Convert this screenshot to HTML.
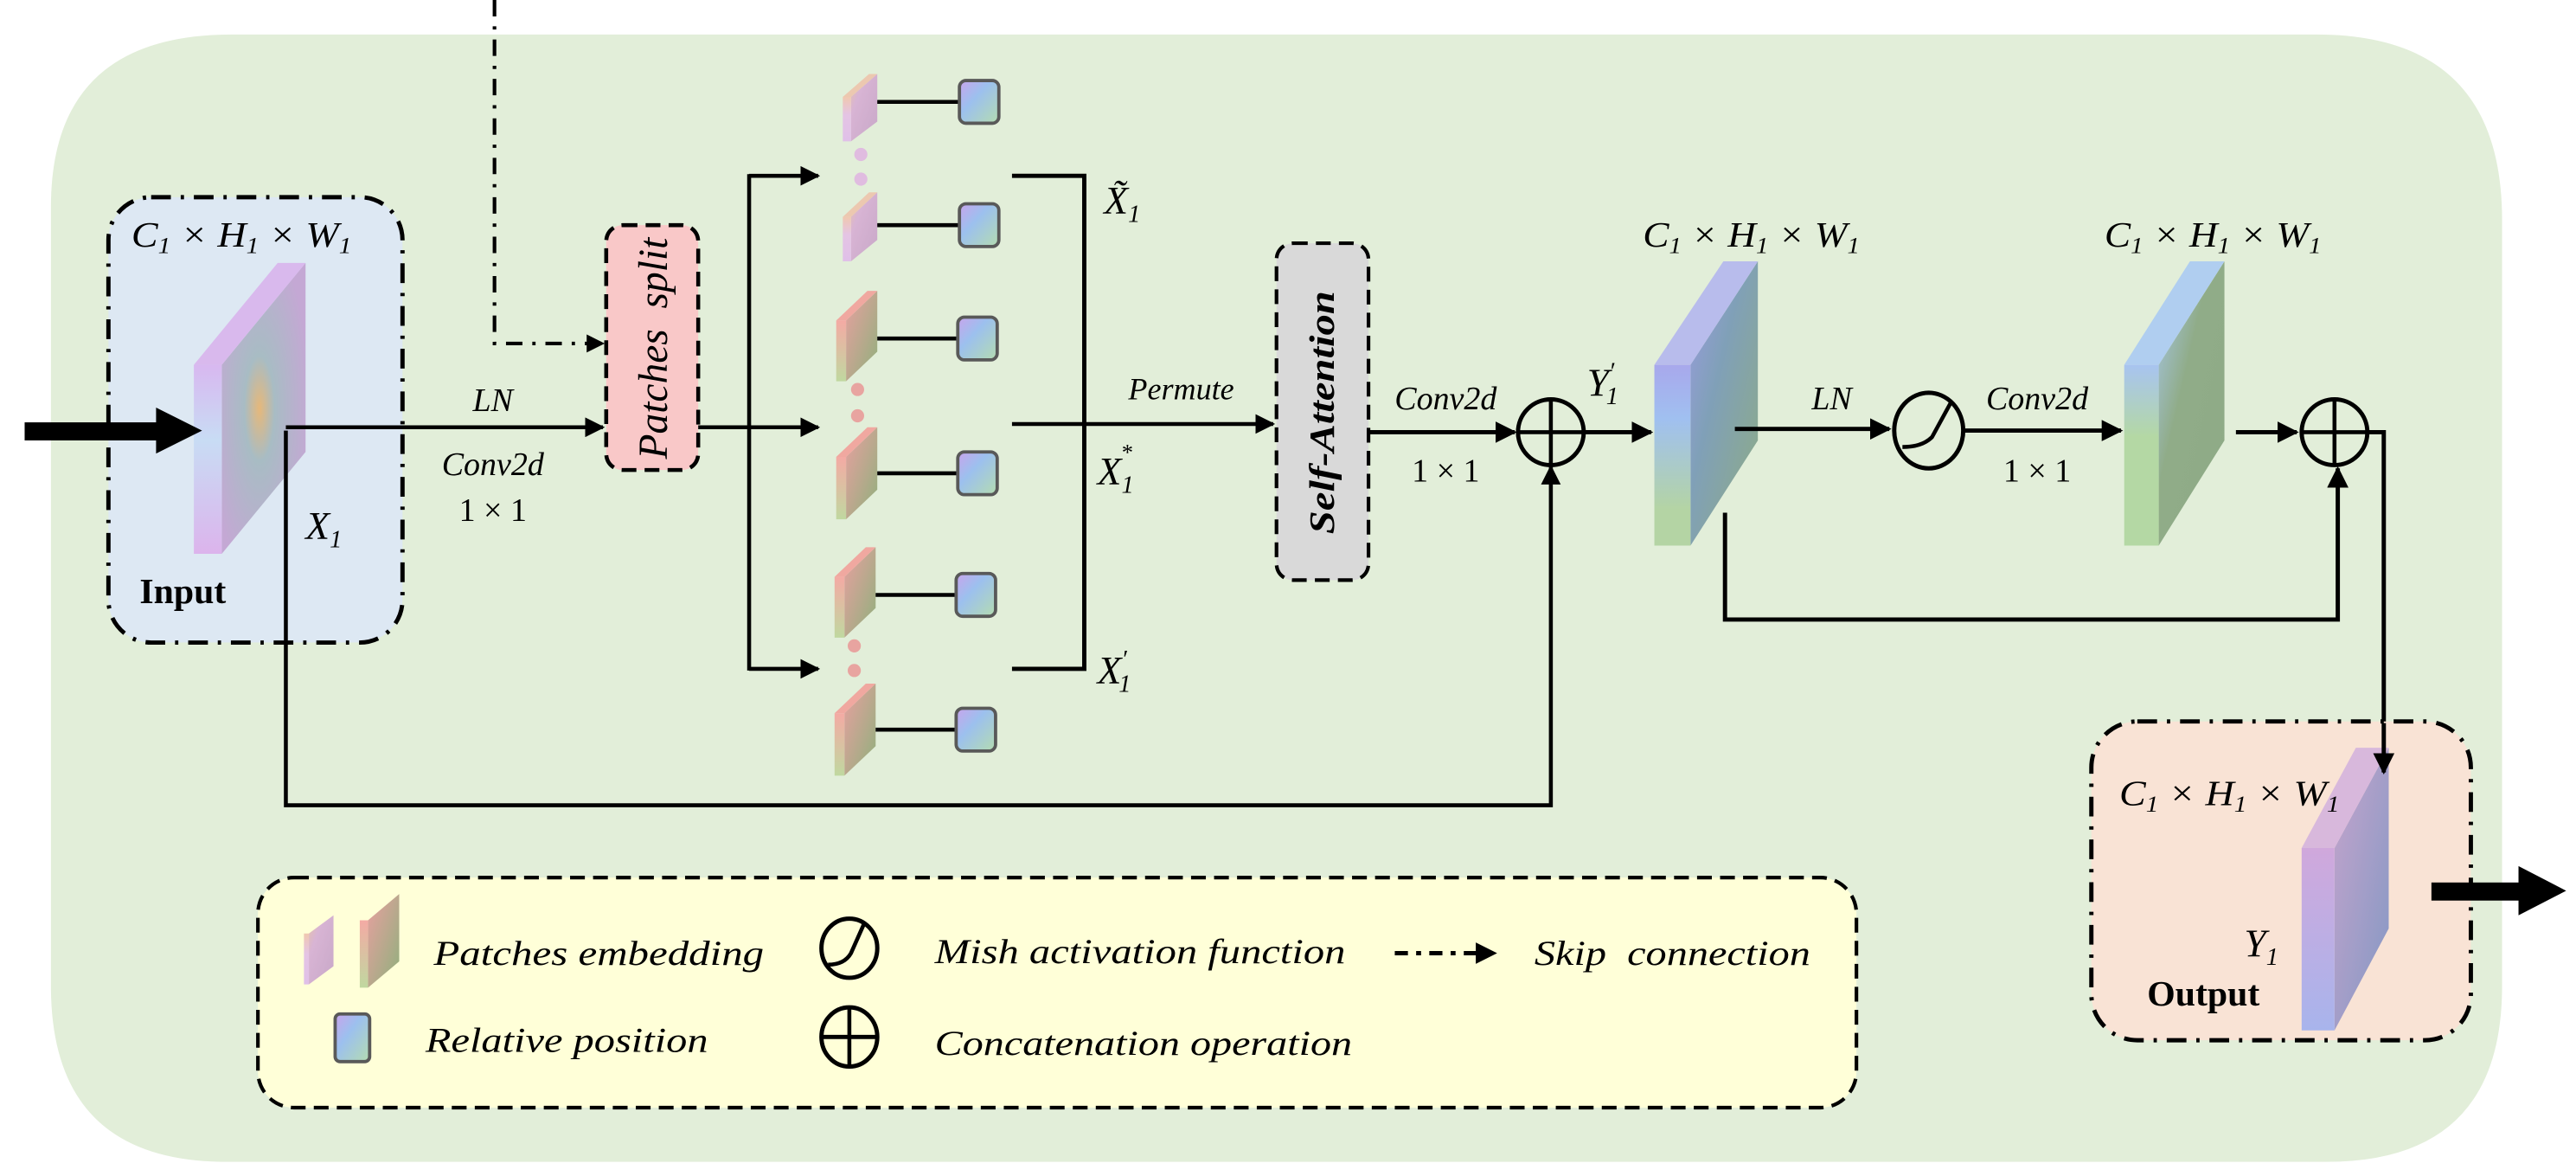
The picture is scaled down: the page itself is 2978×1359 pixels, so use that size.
<!DOCTYPE html>
<html><head><meta charset="utf-8"><style>
html,body{margin:0;padding:0;background:#fff;}
svg{display:block;}
text{font-family:"Liberation Serif",serif;}
.it{font-style:italic;}
</style></head><body>
<svg width="2978" height="1359" viewBox="0 0 1568 715.6" preserveAspectRatio="none" xmlns="http://www.w3.org/2000/svg">
<defs>
<marker id="ah" viewBox="0 0 10 10" refX="9" refY="5" markerWidth="5" markerHeight="5" orient="auto" markerUnits="strokeWidth"><path d="M0,0 L10,5 L0,10 z" fill="#000"/></marker>
<linearGradient id="sq" x1="0" y1="0" x2="1" y2="1"><stop offset="0" stop-color="#c8a4ec"/><stop offset="0.4" stop-color="#9cc0ee"/><stop offset="1" stop-color="#b4dcb0"/></linearGradient>
<linearGradient id="salF" x1="0" y1="0" x2="1" y2="1"><stop offset="0" stop-color="#e8a0a0"/><stop offset="1" stop-color="#8fb07c"/></linearGradient>
<linearGradient id="salS" x1="0" y1="0" x2="0" y2="1"><stop offset="0" stop-color="#f4aaa4"/><stop offset="1" stop-color="#c0d8a0"/></linearGradient>
<linearGradient id="litF" x1="0" y1="0" x2="1" y2="1"><stop offset="0" stop-color="#e8c4a8"/><stop offset="0.3" stop-color="#d8b4d4"/><stop offset="1" stop-color="#c8a8c8"/></linearGradient>
<linearGradient id="litS" x1="0" y1="0" x2="0" y2="1"><stop offset="0" stop-color="#f0c8b0"/><stop offset="0.4" stop-color="#e4c4e4"/><stop offset="1" stop-color="#e0c0e8"/></linearGradient>
<radialGradient id="inF" cx="0.45" cy="0.5" r="0.6"><stop offset="0" stop-color="#e6b87a"/><stop offset="0.3" stop-color="#a8bcc4"/><stop offset="1" stop-color="#c4a8d4"/></radialGradient>
<linearGradient id="inS" x1="0" y1="0" x2="0" y2="1"><stop offset="0" stop-color="#d8b8f0"/><stop offset="0.4" stop-color="#c8dcf4"/><stop offset="1" stop-color="#dcb4ec"/></linearGradient>
<linearGradient id="s2F" x1="0" y1="0" x2="1" y2="1"><stop offset="0" stop-color="#9a9ce0"/><stop offset="0.4" stop-color="#80a0b8"/><stop offset="1" stop-color="#8eac84"/></linearGradient>
<linearGradient id="s2S" x1="0" y1="0" x2="0" y2="1"><stop offset="0" stop-color="#a8a8ec"/><stop offset="0.3" stop-color="#a0c0f0"/><stop offset="0.8" stop-color="#b4d4a4"/></linearGradient>
<linearGradient id="s3F" x1="0" y1="0" x2="1" y2="1"><stop offset="0" stop-color="#a8c8f0"/><stop offset="0.4" stop-color="#90ac88"/><stop offset="1" stop-color="#8eaa86"/></linearGradient>
<linearGradient id="s3S" x1="0" y1="0" x2="0" y2="1"><stop offset="0" stop-color="#a8c4f0"/><stop offset="0.4" stop-color="#b4d8a4"/><stop offset="1" stop-color="#b4d8a4"/></linearGradient>
<linearGradient id="oF" x1="0" y1="0" x2="1" y2="1"><stop offset="0" stop-color="#c4a4cc"/><stop offset="1" stop-color="#8498c4"/></linearGradient>
<linearGradient id="oS" x1="0" y1="0" x2="0" y2="1"><stop offset="0" stop-color="#d0a8dc"/><stop offset="1" stop-color="#a8b4ec"/></linearGradient>
</defs>

<path d="M141,21 H1410 Q1523,21 1523,134 V600 Q1523,707 1416,707 H138 Q31,707 31,600 V126 Q31,21 141,21 z" fill="#e2eed9"/>

<polyline points="301,0 301,209 367,209" fill="none" stroke="#000" stroke-width="2.2" stroke-dasharray="10,6,2,6" marker-end="url(#ah)"/>

<rect x="66" y="120" width="179" height="271" rx="26" fill="#dde8f3" stroke="#000" stroke-width="2.6" stroke-dasharray="12,6,2,6"/>
<text x="80" y="150" class="it" font-size="22" textLength="134" lengthAdjust="spacingAndGlyphs">C<tspan font-size="14" dy="4">1</tspan><tspan dy="-4"> × H</tspan><tspan font-size="14" dy="4">1</tspan><tspan dy="-4"> × W</tspan><tspan font-size="14" dy="4">1</tspan></text>
<polygon points="135,222 186,160 186,275 135,337" fill="url(#inF)"/>
<polygon points="118,222 135,222 135,337 118,337" fill="url(#inS)"/>
<polygon points="118,222 169,160 186,160 135,222" fill="#d8b4ec" opacity="0.9"/>
<text x="186" y="328" class="it" font-size="24">X<tspan font-size="15" dy="5">1</tspan></text>
<text x="85" y="367" font-size="22" font-weight="bold">Input</text>
<rect x="15" y="257" width="82" height="11" fill="#000"/>
<polygon points="95,248 123,262 95,276" fill="#000"/>

<line x1="174" y1="260" x2="367" y2="260" stroke="#000" stroke-width="2.4" marker-end="url(#ah)"/>
<text x="300" y="250" class="it" font-size="20" text-anchor="middle">LN</text>
<text x="300" y="289" class="it" font-size="20" text-anchor="middle">Conv2d</text>
<text x="300" y="317" font-size="20" text-anchor="middle">1 × 1</text>
<polyline points="174,262 174,490 944,490 944,284" fill="none" stroke="#000" stroke-width="2.4" marker-end="url(#ah)"/>

<rect x="369" y="137" width="56" height="149" rx="10" fill="#f9c8c8" stroke="#000" stroke-width="2.4" stroke-dasharray="9,5"/>
<text transform="translate(406,212) rotate(-90)" x="0" y="0" class="it" font-size="25" text-anchor="middle" xml:space="preserve">Patches  split</text>

<line x1="425" y1="260" x2="456" y2="260" stroke="#000" stroke-width="2.4"/>
<line x1="456" y1="106" x2="456" y2="408" stroke="#000" stroke-width="2.4"/>
<line x1="456" y1="107" x2="498" y2="107" stroke="#000" stroke-width="2.4" marker-end="url(#ah)"/>
<line x1="456" y1="260" x2="498" y2="260" stroke="#000" stroke-width="2.4" marker-end="url(#ah)"/>
<line x1="456" y1="407" x2="498" y2="407" stroke="#000" stroke-width="2.4" marker-end="url(#ah)"/>

<g>
<polygon points="518,59 534,45 534,74 518,86" fill="url(#litF)"/><polygon points="513,59 518,59 518,86 513,86" fill="url(#litS)"/><polygon points="513,59 529,45 534,45 518,59" fill="#ecc8b0"/>
<polygon points="518,132 534,117 534,146 518,159" fill="url(#litF)"/><polygon points="513,132 518,132 518,159 513,159" fill="url(#litS)"/><polygon points="513,132 529,117 534,117 518,132" fill="#ecc8b0"/>
<circle cx="524" cy="94" r="4" fill="#e0bce0"/><circle cx="524" cy="109" r="4" fill="#e0bce0"/>
<polygon points="515,195 534,177 534,214 515,232" fill="url(#salF)"/><polygon points="509,195 515,195 515,232 509,232" fill="url(#salS)"/><polygon points="509,195 528,177 534,177 515,195" fill="#f0a8a0"/>
<polygon points="515,278 534,260 534,298 515,316" fill="url(#salF)"/><polygon points="509,278 515,278 515,316 509,316" fill="url(#salS)"/><polygon points="509,278 528,260 534,260 515,278" fill="#f0a8a0"/>
<polygon points="514,351 533,333 533,370 514,388" fill="url(#salF)"/><polygon points="508,351 514,351 514,388 508,388" fill="url(#salS)"/><polygon points="508,351 527,333 533,333 514,351" fill="#f0a8a0"/>
<polygon points="514,434 533,416 533,454 514,472" fill="url(#salF)"/><polygon points="508,434 514,434 514,472 508,472" fill="url(#salS)"/><polygon points="508,434 527,416 533,416 514,434" fill="#f0a8a0"/>
<circle cx="522" cy="237" r="4" fill="#e8a4a0"/><circle cx="522" cy="253" r="4" fill="#e8a4a0"/>
<circle cx="520" cy="393" r="4" fill="#e8a4a0"/><circle cx="520" cy="408" r="4" fill="#e8a4a0"/>
</g>
<g stroke="#000" stroke-width="2.4">
<line x1="534" y1="62" x2="584" y2="62"/><line x1="534" y1="137" x2="584" y2="137"/><line x1="534" y1="206" x2="584" y2="206"/><line x1="534" y1="288" x2="584" y2="288"/><line x1="533" y1="362" x2="582" y2="362"/><line x1="533" y1="444" x2="582" y2="444"/>
</g>
<g fill="url(#sq)" stroke="#595959" stroke-width="2">
<rect x="584" y="49" width="24" height="26" rx="4"/><rect x="584" y="124" width="24" height="26" rx="4"/><rect x="583" y="193" width="24" height="26" rx="4"/><rect x="583" y="275" width="24" height="26" rx="4"/><rect x="582" y="349" width="24" height="26" rx="4"/><rect x="582" y="431" width="24" height="26" rx="4"/>
</g>

<polyline points="616,107 660,107 660,407 616,407" fill="none" stroke="#000" stroke-width="2.6"/>
<line x1="616" y1="258" x2="775" y2="258" stroke="#000" stroke-width="2.4" marker-end="url(#ah)"/>
<text x="672" y="130" class="it" font-size="24">X̃<tspan font-size="15" dy="5">1</tspan></text>
<text x="668" y="295" class="it" font-size="24">X<tspan font-size="15" dy="5">1</tspan><tspan font-size="14" dy="-20" dx="-8">*</tspan></text>
<text x="668" y="416" class="it" font-size="24">X<tspan font-size="15" dy="-10">′</tspan><tspan font-size="15" dy="15" dx="-5">1</tspan></text>
<text x="719" y="243" class="it" font-size="19" text-anchor="middle">Permute</text>

<rect x="777" y="148" width="56" height="205" rx="10" fill="#d9d9d9" stroke="#000" stroke-width="2.2" stroke-dasharray="9,5"/>
<text transform="translate(812,251) rotate(-90)" class="it" font-size="22" font-weight="bold" text-anchor="middle" textLength="148" lengthAdjust="spacingAndGlyphs">Self-Attention</text>

<line x1="833" y1="263" x2="922" y2="263" stroke="#000" stroke-width="2.6" marker-end="url(#ah)"/>
<text x="880" y="249" class="it" font-size="20" text-anchor="middle">Conv2d</text>
<text x="880" y="293" font-size="20" text-anchor="middle">1 × 1</text>
<circle cx="944" cy="263" r="20" fill="none" stroke="#000" stroke-width="2.6"/>
<line x1="924" y1="263" x2="964" y2="263" stroke="#000" stroke-width="2.4"/><line x1="944" y1="243" x2="944" y2="283" stroke="#000" stroke-width="2.4"/>
<line x1="964" y1="263" x2="1005" y2="263" stroke="#000" stroke-width="2.6" marker-end="url(#ah)"/>
<text x="966" y="241" class="it" font-size="24">Y<tspan font-size="15" dy="-10">′</tspan><tspan font-size="15" dy="15" dx="-5">1</tspan></text>

<text x="1066" y="150" class="it" font-size="22" text-anchor="middle" textLength="132" lengthAdjust="spacingAndGlyphs">C<tspan font-size="14" dy="4">1</tspan><tspan dy="-4"> × H</tspan><tspan font-size="14" dy="4">1</tspan><tspan dy="-4"> × W</tspan><tspan font-size="14" dy="4">1</tspan></text>
<polygon points="1029,222 1070,159 1070,268 1029,332" fill="url(#s2F)"/>
<polygon points="1007,222 1029,222 1029,332 1007,332" fill="url(#s2S)"/>
<polygon points="1007,222 1049,159 1070,159 1029,222" fill="#b8bcec"/>
<line x1="1056" y1="261" x2="1150" y2="261" stroke="#000" stroke-width="2.6" marker-end="url(#ah)"/>
<text x="1115" y="249" class="it" font-size="20" text-anchor="middle">LN</text>
<ellipse cx="1174" cy="262" rx="21" ry="23" fill="none" stroke="#000" stroke-width="2.6"/>
<path d="M1158,272 Q1170,272 1176,266 L1188,244" fill="none" stroke="#000" stroke-width="2.4"/>
<line x1="1195" y1="262" x2="1291" y2="262" stroke="#000" stroke-width="2.6" marker-end="url(#ah)"/>
<text x="1240" y="249" class="it" font-size="20" text-anchor="middle">Conv2d</text>
<text x="1240" y="293" font-size="20" text-anchor="middle">1 × 1</text>
<text x="1347" y="150" class="it" font-size="22" text-anchor="middle" textLength="132" lengthAdjust="spacingAndGlyphs">C<tspan font-size="14" dy="4">1</tspan><tspan dy="-4"> × H</tspan><tspan font-size="14" dy="4">1</tspan><tspan dy="-4"> × W</tspan><tspan font-size="14" dy="4">1</tspan></text>
<polygon points="1314,222 1354,159 1354,268 1314,332" fill="url(#s3F)"/>
<polygon points="1293,222 1314,222 1314,332 1293,332" fill="url(#s3S)"/>
<polygon points="1293,222 1333,159 1354,159 1314,222" fill="#b0cef0"/>
<line x1="1361" y1="263" x2="1398" y2="263" stroke="#000" stroke-width="2.6" marker-end="url(#ah)"/>
<circle cx="1421" cy="263" r="20" fill="none" stroke="#000" stroke-width="2.6"/>
<line x1="1401" y1="263" x2="1441" y2="263" stroke="#000" stroke-width="2.4"/><line x1="1421" y1="243" x2="1421" y2="283" stroke="#000" stroke-width="2.4"/>
<polyline points="1050,312 1050,377 1423,377 1423,285" fill="none" stroke="#000" stroke-width="2.6" marker-end="url(#ah)"/>
<polyline points="1441,263 1451,263 1451,468" fill="none" stroke="#000" stroke-width="2.6" marker-end="url(#ah)"/>

<rect x="1273" y="439" width="231" height="194" rx="28" fill="#f9e3d5" stroke="#000" stroke-width="2.6" stroke-dasharray="12,6,2,6"/>
<polygon points="1421,516 1454,455 1454,565 1421,627" fill="url(#oF)"/>
<polygon points="1401,516 1421,516 1421,627 1401,627" fill="url(#oS)"/>
<polygon points="1401,516 1434,455 1454,455 1421,516" fill="#d8b8dc"/>
<line x1="1451" y1="440" x2="1451" y2="470" stroke="#000" stroke-width="2.6" marker-end="url(#ah)"/>
<text x="1290" y="490" class="it" font-size="22" textLength="134" lengthAdjust="spacingAndGlyphs">C<tspan font-size="14" dy="4">1</tspan><tspan dy="-4"> × H</tspan><tspan font-size="14" dy="4">1</tspan><tspan dy="-4"> × W</tspan><tspan font-size="14" dy="4">1</tspan></text>
<text x="1366" y="582" class="it" font-size="24">Y<tspan font-size="15" dy="5">1</tspan></text>
<text x="1307" y="612" font-size="22" font-weight="bold">Output</text>
<rect x="1480" y="537" width="55" height="11" fill="#000"/>
<polygon points="1533,527 1562,542 1533,557" fill="#000"/>

<rect x="157" y="534" width="973" height="140" rx="22" fill="#ffffd8" stroke="#000" stroke-width="2.2" stroke-dasharray="9,5"/>
<polygon points="188,568 203,557 203,588 188,599" fill="url(#litF)"/><polygon points="185,568 188,568 188,599 185,599" fill="url(#litS)"/>
<polygon points="224,560 243,544 243,585 224,601" fill="url(#salF)"/><polygon points="219,560 224,560 224,601 219,601" fill="url(#salS)"/>
<text x="264" y="587" class="it" font-size="21" textLength="201" lengthAdjust="spacingAndGlyphs">Patches embedding</text>
<ellipse cx="517" cy="577" rx="17" ry="18" fill="none" stroke="#000" stroke-width="2.6"/>
<path d="M504,587 Q514,587 518,580 L526,562" fill="none" stroke="#000" stroke-width="2.4"/>
<text x="569" y="586" class="it" font-size="21" textLength="250" lengthAdjust="spacingAndGlyphs">Mish activation function</text>
<line x1="849" y1="580" x2="910" y2="580" stroke="#000" stroke-width="2.6" stroke-dasharray="8,5,3,5" marker-end="url(#ah)"/>
<text x="934" y="587" class="it" font-size="21" textLength="168" lengthAdjust="spacingAndGlyphs" xml:space="preserve">Skip  connection</text>
<rect x="204" y="617" width="21" height="29" rx="3" fill="url(#sq)" stroke="#595959" stroke-width="2"/>
<text x="259" y="640" class="it" font-size="21" textLength="172" lengthAdjust="spacingAndGlyphs">Relative position</text>
<ellipse cx="517" cy="631" rx="17" ry="18" fill="none" stroke="#000" stroke-width="2.6"/>
<line x1="500" y1="631" x2="534" y2="631" stroke="#000" stroke-width="2.6"/><line x1="517" y1="613" x2="517" y2="649" stroke="#000" stroke-width="2.4"/>
<text x="569" y="642" class="it" font-size="21" textLength="254" lengthAdjust="spacingAndGlyphs">Concatenation operation</text>
</svg>
</body></html>
